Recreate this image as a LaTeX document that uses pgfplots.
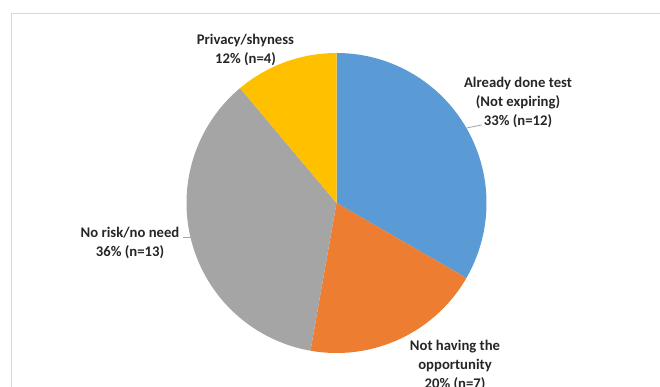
\documentclass[border=0pt]{standalone}
\usepackage{pgfplots}
\usepackage{pgfplotstable}
\usepackage{fontspec}
\pgfplotsset{compat=1.18}
\setmainfont{Carlito}

\definecolor{sBlue}{HTML}{5B9BD5}
\definecolor{sOrange}{HTML}{ED7D31}
\definecolor{sGray}{HTML}{A5A5A5}
\definecolor{sYellow}{HTML}{FFC000}
\definecolor{lblText}{HTML}{262626}
\definecolor{leader}{HTML}{A6A6A6}
\definecolor{frameGray}{HTML}{D9D9D9}

\tikzset{lbl/.style={font=\fontsize{14.7bp}{19bp}\selectfont\bfseries,
    text=lblText, align=center, inner sep=0pt, anchor=center}}

% reasons given (counts of respondents)
\pgfplotstableread{
reason n
done   12
noopp  7
norisk 13
priv   4
}\piedata

\pgfplotstablegetelem{0}{n}\of\piedata \let\nA\pgfplotsretval
\pgfplotstablegetelem{1}{n}\of\piedata \let\nB\pgfplotsretval
\pgfplotstablegetelem{2}{n}\of\piedata \let\nC\pgfplotsretval
\pgfplotstablegetelem{3}{n}\of\piedata \let\nD\pgfplotsretval
\pgfmathsetmacro\tot{\nA+\nB+\nC+\nD}
% slice boundaries, clockwise from 12 o'clock
\pgfmathsetmacro\aA{90}
\pgfmathsetmacro\aB{\aA-360*\nA/\tot}
\pgfmathsetmacro\aC{\aB-360*\nB/\tot}
\pgfmathsetmacro\aD{\aC-360*\nC/\tot}
\pgfmathsetmacro\aE{\aD-360*\nD/\tot}

\def\cx{336.5}
\def\cy{203}
\def\rr{150}

\begin{document}
\begin{tikzpicture}
\useasboundingbox (0,0) rectangle (660bp,387bp);
\clip (0,0) rectangle (660bp,387bp);
\begin{axis}[
  at={(0,0)}, anchor=south west,
  width=660bp, height=387bp, scale only axis,
  xmin=0, xmax=660, ymin=0, ymax=387,
  y dir=reverse,
  hide axis, clip=false,
]
% chart frame
\addplot[frameGray, line width=1.2bp, forget plot] coordinates {(11.5,387) (11.5,13.5) (660,13.5)};

% slices
\addplot[fill=sBlue, draw=none, domain=\aB:\aA, samples=90]
  ({\cx+\rr*cos(x)}, {\cy-\rr*sin(x)}) -- (axis cs:\cx,\cy) -- cycle;
\addplot[fill=sOrange, draw=none, domain=\aC:\aB, samples=90]
  ({\cx+\rr*cos(x)}, {\cy-\rr*sin(x)}) -- (axis cs:\cx,\cy) -- cycle;
\addplot[fill=sGray, draw=none, domain=\aD:\aC, samples=90]
  ({\cx+\rr*cos(x)}, {\cy-\rr*sin(x)}) -- (axis cs:\cx,\cy) -- cycle;
\addplot[fill=sYellow, draw=none, domain=\aE:\aD, samples=90]
  ({\cx+\rr*cos(x)}, {\cy-\rr*sin(x)}) -- (axis cs:\cx,\cy) -- cycle;

% leader lines
\addplot[leader, line width=0.8bp] coordinates {(466.5,128) (481.5,125)};
\addplot[leader, line width=0.8bp] coordinates {(182.5,237.5) (190.5,237.5)};

% data labels
\node[lbl] at (axis cs:518,102.5) {Already done test\\(Not expiring)\\33\% (n=12)};
\node[lbl] at (axis cs:455,365) {Not having the\\opportunity\\20\% (n=7)};
\node[lbl] at (axis cs:130,243) {No risk/no need\\36\% (n=13)};
\node[lbl] at (axis cs:245.5,49.5) {Privacy/shyness\\12\% (n=4)};
\end{axis}
\end{tikzpicture}
\end{document}
